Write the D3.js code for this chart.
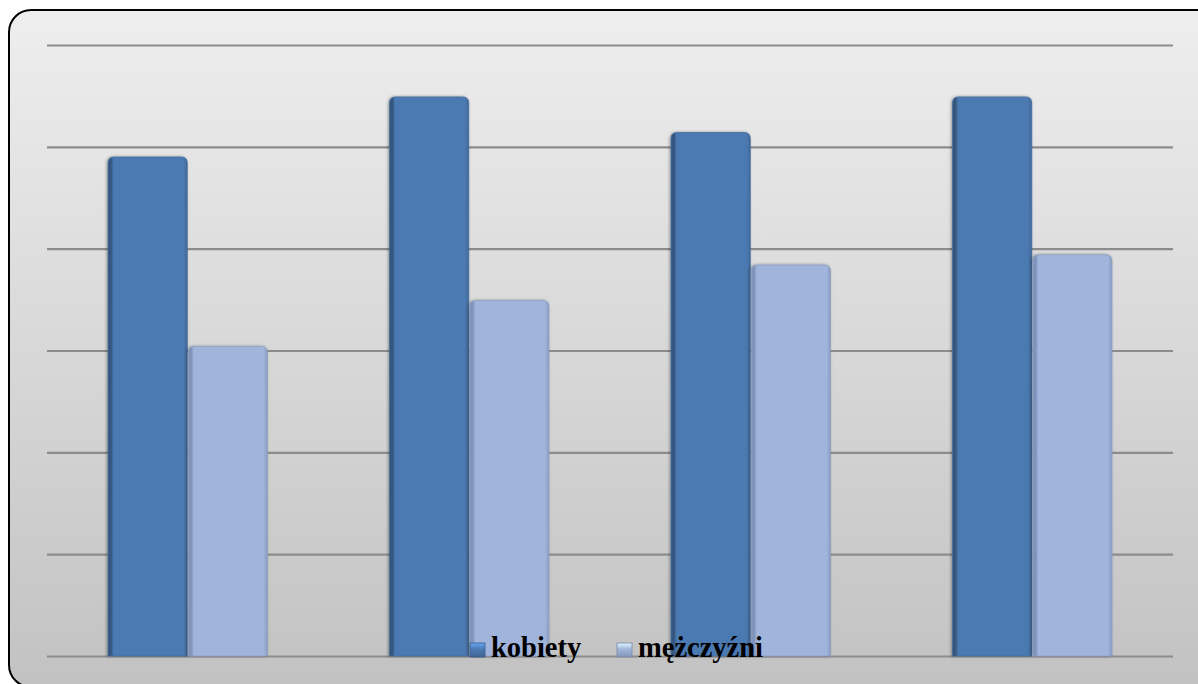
<!DOCTYPE html>
<html>
<head>
<meta charset="utf-8">
<script src="https://cdn.jsdelivr.net/npm/d3@7"></script>
<style>
  html, body { margin: 0; padding: 0; background: #ffffff; overflow: hidden; }
  svg { display: block; }
</style>
</head>
<body>
<script>
const categories = ["1", "2", "3", "4"];
const seriesNames = ["kobiety", "mężczyźni"];
const kobiety = [49.0, 54.9, 51.4, 54.9];
const mezczyzni = [30.4, 34.9, 38.4, 39.4];
const yTicks = [0, 10, 20, 30, 40, 50, 60];
const colors = ["#4c79b1", "#a0b4dc"];
const edgeColors = ["#34577f", "#7f93bb"];

const W = 1198, H = 684;
const svg = d3.select("body").append("svg").attr("width", W).attr("height", H);
const defs = svg.append("defs");

const bg = defs.append("linearGradient").attr("id", "bg").attr("x1", 0).attr("y1", 0).attr("x2", 0).attr("y2", 1);
bg.append("stop").attr("offset", "0%").attr("stop-color", "#eeeeee");
bg.append("stop").attr("offset", "100%").attr("stop-color", "#c2c2c2");

colors.forEach((c, i) => {
  const g = defs.append("linearGradient").attr("id", "bar" + i).attr("x1", 0).attr("y1", 0).attr("x2", 1).attr("y2", 0);
  g.append("stop").attr("offset", "0%").attr("stop-color", edgeColors[i]);
  g.append("stop").attr("offset", "4%").attr("stop-color", edgeColors[i]);
  g.append("stop").attr("offset", "7%").attr("stop-color", c);
  g.append("stop").attr("offset", "95%").attr("stop-color", c);
  g.append("stop").attr("offset", "100%").attr("stop-color", d3.color(c).darker(0.4));
  const m = defs.append("linearGradient").attr("id", "mk" + i).attr("x1", 0).attr("y1", 0).attr("x2", 0).attr("y2", 1);
  m.append("stop").attr("offset", "0%").attr("stop-color", d3.color(c).brighter(0.9));
  m.append("stop").attr("offset", "45%").attr("stop-color", c);
  m.append("stop").attr("offset", "100%").attr("stop-color", d3.color(c).darker(0.5));
});

const sh = defs.append("filter").attr("id", "shadow").attr("x", "-10%").attr("y", "-10%").attr("width", "130%").attr("height", "130%");
sh.append("feDropShadow").attr("dx", -1).attr("dy", 0).attr("stdDeviation", 1.5).attr("flood-color", "#000").attr("flood-opacity", 0.35);

// Chart area background
svg.append("rect")
  .attr("x", 9).attr("y", 10).attr("width", 1215).attr("height", 677)
  .attr("rx", 22).attr("ry", 22)
  .attr("fill", "url(#bg)")
  .attr("stroke", "#000").attr("stroke-width", 2);

const plot = { left: 47, right: 1173, top: 45, bottom: 656 };

const x = d3.scaleBand().domain(categories).range([plot.left, plot.right])
  .paddingInner(0.43).paddingOuter(0.215);
const xs = d3.scaleBand().domain(seriesNames).range([0, x.bandwidth()]).padding(0);
const y = d3.scaleLinear().domain([0, 60]).range([plot.bottom, plot.top]);

// gridlines
const yAxis = d3.axisLeft(y).tickValues(yTicks).tickSize(-(plot.right - plot.left)).tickFormat("");
const ga = svg.append("g").attr("transform", `translate(${plot.left},0)`).call(yAxis);
ga.select(".domain").remove();
ga.selectAll(".tick line").attr("stroke", "#8c8c8c").attr("stroke-width", 2.2);

const data = categories.map((c, i) => ({ cat: c, vals: [kobiety[i], mezczyzni[i]] }));

function barPath(x0, w, yTop, yBot, r) {
  return `M${x0},${yBot} L${x0},${yTop + r} Q${x0},${yTop} ${x0 + r},${yTop} L${x0 + w - r},${yTop} Q${x0 + w},${yTop} ${x0 + w},${yTop + r} L${x0 + w},${yBot} Z`;
}

const groups = svg.append("g").selectAll("g").data(data).join("g")
  .attr("transform", d => `translate(${x(d.cat)},0)`);

groups.selectAll("path").data(d => d.vals.map((v, i) => ({ v, i }))).join("path")
  .attr("d", d => barPath(xs(seriesNames[d.i]) + 0.5, xs.bandwidth() - 1, y(d.v), y(0), 6))
  .attr("fill", d => `url(#bar${d.i})`)
  .attr("stroke", d => d3.color(colors[d.i]).darker(0.35))
  .attr("stroke-width", 0.8)
  .attr("filter", "url(#shadow)");

// legend
const legend = svg.append("g");
const legendItems = [
  { name: seriesNames[0], i: 0, x: 470 },
  { name: seriesNames[1], i: 1, x: 617 }
];
legendItems.forEach(it => {
  legend.append("rect").attr("x", it.x).attr("y", 643).attr("width", 15).attr("height", 14)
    .attr("fill", `url(#mk${it.i})`).attr("stroke", d3.color(colors[it.i]).darker(0.8)).attr("stroke-width", 0.8);
  legend.append("text").attr("x", it.x + 21).attr("y", 657)
    .attr("font-family", "'Liberation Serif', serif").attr("font-weight", "bold")
    .attr("font-size", 28.5).attr("fill", "#000").text(it.name);
});
</script>
</body>
</html>
